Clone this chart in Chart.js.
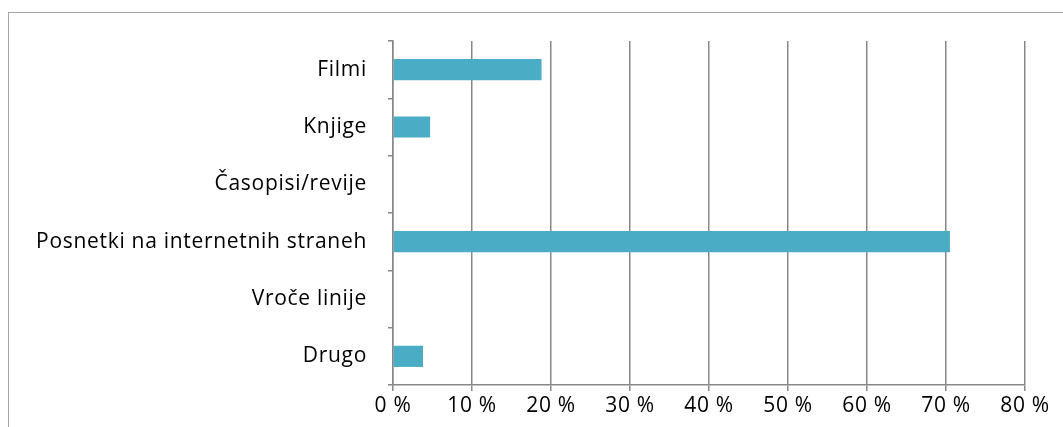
<!DOCTYPE html>
<html>
<head>
<meta charset="utf-8">
<script src="https://cdn.jsdelivr.net/npm/chart.js@4/dist/chart.umd.min.js"></script>
<style>
  body { margin: 0; background: #fff; }
  #wrap { position: relative; width: 1063px; height: 427px; overflow: hidden; }
  #frame { position: absolute; left: 8px; top: 12px; width: 1200px; height: 600px;
           border-top: 1px solid #a6a6a6; border-left: 1px solid #a6a6a6; }
  canvas { position: absolute; left: 0; top: 0; }
</style>
</head>
<body>
<div id="wrap">
  <div id="frame"></div>
  <canvas id="myChart" width="1063" height="427"></canvas>
</div>
<script>
var myLabels = ['Filmi', 'Knjige', 'Časopisi/revije', 'Posnetki na internetnih straneh', 'Vroče linije', 'Drugo'];
var myValues = [18.8, 4.7, 0, 70.5, 0, 3.8];
var myTicks = [0, 10, 20, 30, 40, 50, 60, 70, 80];

var axisGray = '#878787';
var labelFont = { family: 'Open Sans', size: 21 };

// spread letters a bit, the original text is wider than any font we have
var spacingPlugin = {
    id: 'spacing',
    beforeDraw: function(chart) { chart.ctx.letterSpacing = '0.7px'; }
};

var ctx = document.getElementById('myChart').getContext('2d');
var myChart = new Chart(ctx, {
    type: 'bar',
    data: {
        labels: myLabels,
        datasets: [{
            data: myValues,
            backgroundColor: '#4bacc6',
            borderWidth: 0,
            categoryPercentage: 1,
            barPercentage: 0.37
        }]
    },
    options: {
        indexAxis: 'y',
        responsive: false,
        animation: false,
        layout: { padding: { top: 41, right: 38, left: 0, bottom: 0 } },
        plugins: { legend: { display: false }, tooltip: { enabled: false } },
        scales: {
            y: {
                grid: { drawOnChartArea: false, drawTicks: true, tickLength: 5, color: axisGray, lineWidth: 1.5, offset: true },
                border: { display: true, color: axisGray, width: 1.5 },
                ticks: { color: '#000', padding: 21, font: labelFont },
                afterFit: function(scale) { scale.width = 393; }
            },
            x: {
                min: 0,
                max: 80,
                afterBuildTicks: function(scale) {
                    scale.ticks = myTicks.map(function(v) { return { value: v }; });
                },
                grid: { color: axisGray, lineWidth: 1.5, tickLength: 6 },
                border: { display: true, color: axisGray, width: 1.5 },
                ticks: {
                    color: '#000', padding: 2, maxRotation: 0,
                    font: labelFont,
                    callback: function(v) { return v + ' %'; }
                },
                afterFit: function(scale) { scale.height = 42; }
            }
        }
    },
    plugins: [spacingPlugin]
});
</script>
</body>
</html>
